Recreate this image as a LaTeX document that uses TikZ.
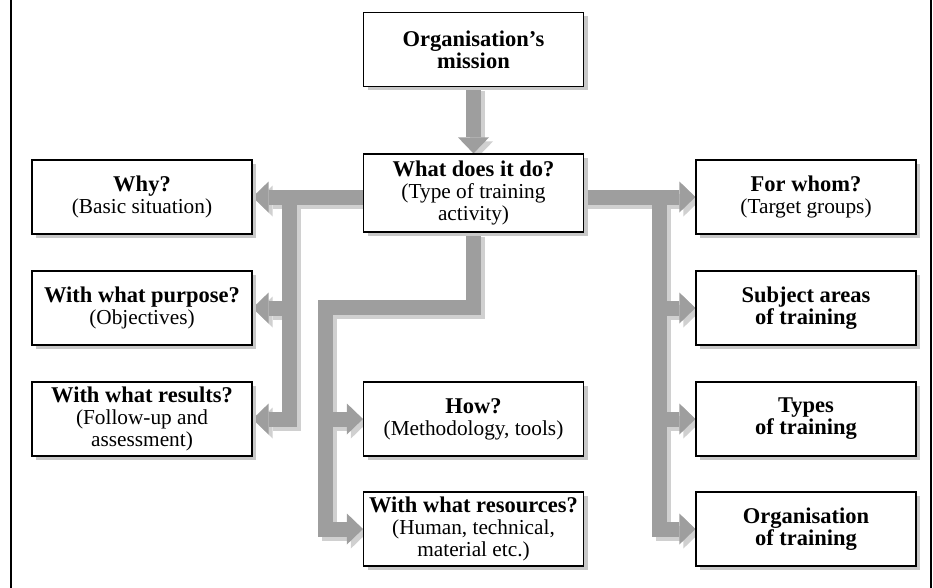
\documentclass[tikz,border=0pt]{standalone}
\usepackage{fontspec}
\setmainfont{Liberation Serif}
\usetikzlibrary{arrows.meta,shadows,backgrounds}
\definecolor{bandgray}{RGB}{158,158,158}
\definecolor{bandshade}{RGB}{208,208,208}
\definecolor{boxshade}{RGB}{200,200,200}
\newcommand{\hd}[1]{{\fontsize{22.5}{22}\selectfont\bfseries #1}}
\begin{document}
\begin{tikzpicture}
      [x=1pt, y=-1pt,
       box/.style={draw, line width=1.2pt, fill=white, minimum width=220pt, minimum height=74pt,
         inner sep=0pt, align=center, font=\fontsize{21.3}{22}\selectfont,
         drop shadow={fill=boxshade, opacity=1, shadow xshift=4pt, shadow yshift=-4pt}},
       band/.style={line width=15pt, draw=bandgray, line join=miter,
         -{Triangle[length=16pt, width=31pt, line width=0pt]}},
       bandshadow/.style={band, draw=bandshade, transform canvas={shift={(4pt,-4pt)}}}]
      \useasboundingbox (0,0) rectangle (933,588);
      \draw[line width=1.5pt] (11,0) -- (11,588);
      \draw[line width=1.5pt] (931,0) -- (931,588);
      \node[box](mission) at (473.5, 49.5) {\hd{Organisation’s}\\\hd{mission}};
      \node[box, minimum height=78pt](todo) at (473.5, 193) {\hd{What does it do?}\\(Type of training\\activity)};
      \node[box](why) at (142, 197) {\hd{Why?}\\(Basic situation)};
      \node[box](purpose) at (142, 308) {\hd{With what purpose?}\\(Objectives)};
      \node[box](results) at (142, 419) {\hd{With what results?}\\(Follow-up and\\assessment)};
      \node[box](how) at (473.5, 419) {\hd{How?}\\(Methodology, tools)};
      \node[box](resources) at (473.5, 529) {\hd{With what resources?}\\(Human, technical,\\material etc.)};
      \node[box](whom) at (806, 197) {\hd{For whom?}\\(Target groups)};
      \node[box](subject) at (806, 308) {\hd{Subject areas}\\\hd{of training}};
      \node[box](types) at (806, 419) {\hd{Types}\\\hd{of training}};
      \node[box](orgtrain) at (806, 529) {\hd{Organisation}\\\hd{of training}};
      \coordinate(lbus) at (289.5, 197);
      \coordinate(mbus) at (325.5, 307.5);
      \coordinate(rbus) at (659.5, 197);
      \begin{scope}[on background layer]
        \foreach \s in {bandshadow, band} {
          \draw[\s](mission.south) -- (todo.north);
          \draw[\s](lbus -| todo.west) -- (why.east);
          \draw[\s](lbus) |- (results.east);
          \draw[\s](lbus |- purpose.east) -- (purpose.east);
          \draw[\s](todo.south) |- (mbus) |- (resources.west);
          \draw[\s](mbus |- how.west) -- (how.west);
          \draw[\s](rbus -| todo.east) -- (whom.west);
          \draw[\s](rbus) |- (orgtrain.west);
          \draw[\s](rbus |- subject.west) -- (subject.west);
          \draw[\s](rbus |- types.west) -- (types.west);
        }
      \end{scope}
  \end{tikzpicture}
\end{document}
